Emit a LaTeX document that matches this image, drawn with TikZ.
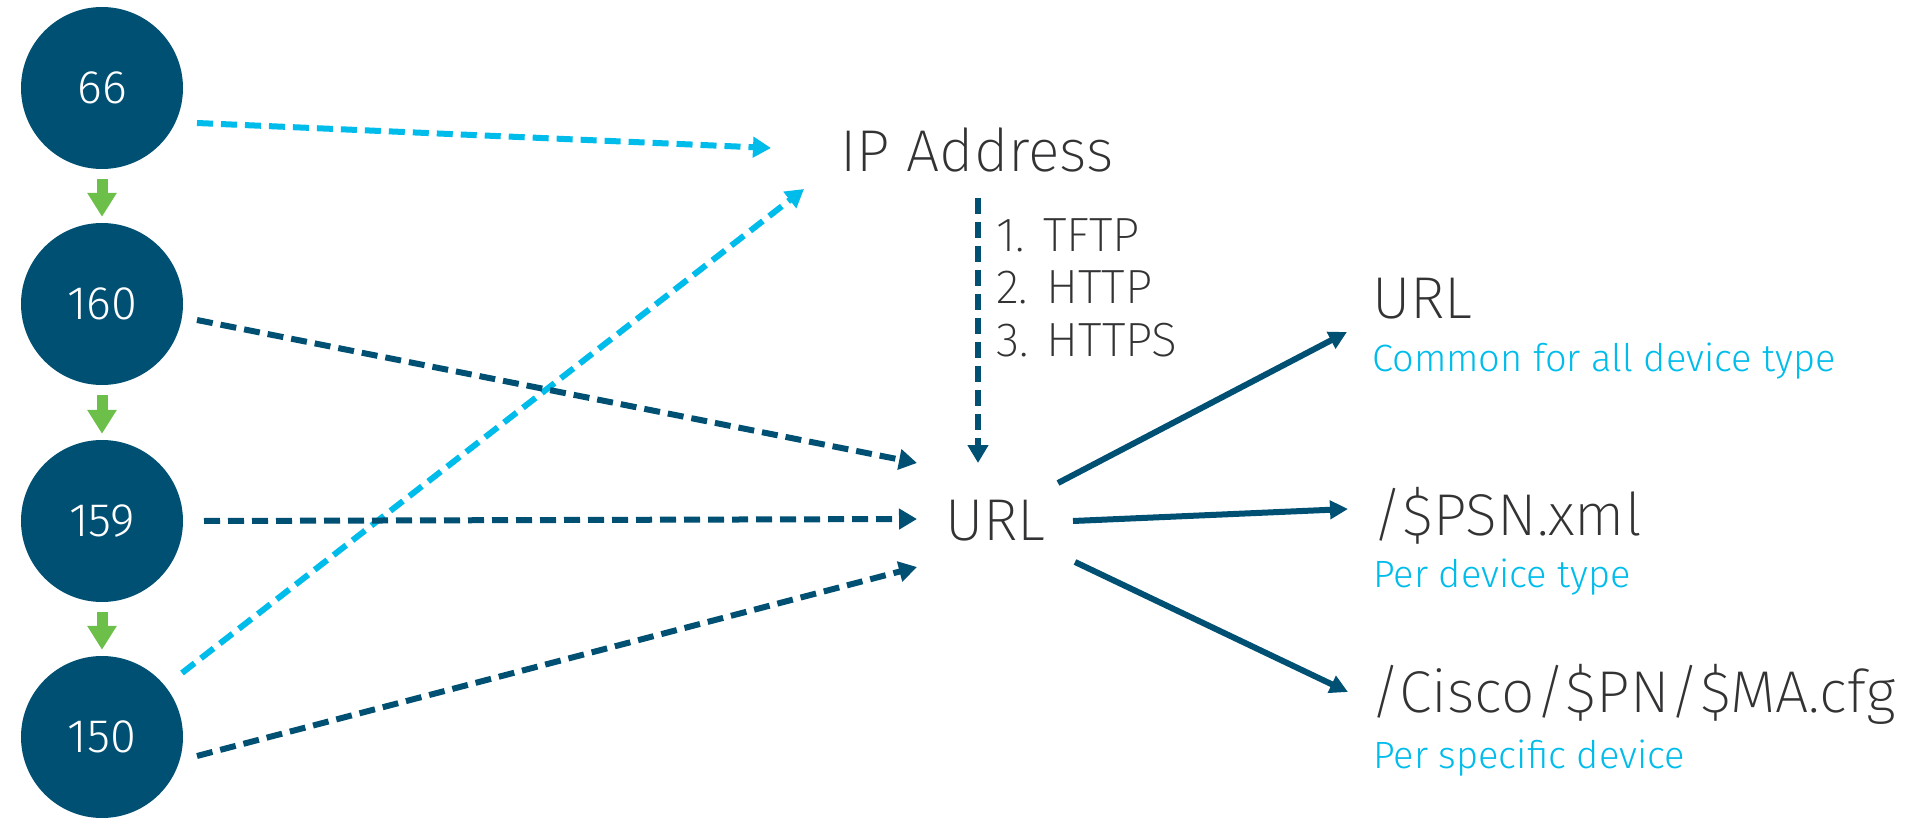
\documentclass[tikz,border=0pt]{standalone}
\usepackage{fontspec}
\IfFontExistsTF{Fira Sans ExtraLight}
  {\setmainfont{Fira Sans ExtraLight}}
  {\setmainfont{Fira Sans Light}}
\newfontfamily\notefont{Fira Sans Light}
\usetikzlibrary{arrows.meta,calc}

\definecolor{ciscodark}{HTML}{005073}
\definecolor{ciscolight}{HTML}{00BCEB}
\definecolor{ciscogreen}{HTML}{6CC04A}
\definecolor{labelgray}{HTML}{333335}

\begin{document}
\begin{tikzpicture}[x=1pt,y=-1pt,
  option/.style={circle, fill=ciscodark, minimum size=162pt, inner sep=0pt,
    text=white, font=\notefont\fontsize{47}{47}\selectfont},
  fallback/.style={line width=11pt, draw=ciscogreen,
    -{Triangle[width=28pt,length=24pt]}},
  dhcp/.style={line width=6pt, draw=ciscolight, dash pattern=on 16pt off 8pt,
    -{Triangle[width=20pt,length=18pt]}},
  fetch/.style={line width=6pt, draw=ciscodark, dash pattern=on 16pt off 8pt,
    -{Triangle[width=20pt,length=18pt]}},
  cfgfile/.style={line width=6pt, draw=ciscodark,
    -{Triangle[width=18pt,length=18pt]}},
  big/.style={text=labelgray, font=\fontsize{59}{59}\selectfont,
    inner sep=0pt, anchor=base west},
  proto/.style={text=labelgray, font=\fontsize{48}{48}\selectfont,
    inner sep=0pt, anchor=base west},
  note/.style={text=ciscolight, font=\notefont\fontsize{38}{38}\selectfont,
    inner sep=0pt, anchor=base west},
]
\useasboundingbox (0,0) rectangle (1907,818);

% DHCP options, tried from top to bottom
\node[option] (c66)  at (102,88)  {66};
\node[option] (c160) at (102,304) {160};
\node[option] (c159) at (102,521) {159};
\node[option] (c150) at (102,737) {150};

\draw[fallback] ([yshift=-10pt]c66.south)  -- ([yshift=6pt]c160.north);
\draw[fallback] ([yshift=-10pt]c160.south) -- ([yshift=6pt]c159.north);
\draw[fallback] ([yshift=-10pt]c159.south) -- ([yshift=6pt]c150.north);

% targets
\node[big] (ip)  at (840,172) {IP Address};
\node[big] (url) at (945,540) {URL};

\node[proto] (p1) at (996,252) {1. TFTP};
\node[proto] (p2) at (996,304) {2. HTTP};
\node[proto] (p3) at (996,357) {3. HTTPS};

\node[big]  (r1)  at (1372,319) {URL};
\node[note] (r1n) at (1372,372) {Common for all device type};
\node[big]  (r2)  at (1372,535) {/\$PSN.xml};
\node[note] (r2n) at (1373,587) {Per device type};
\node[big]  (r3)  at (1370,712) {/Cisco/\$PN/\$MA.cfg};
\node[note] (r3n) at (1373,768) {Per specific device};

% option value -> server address
\draw[dhcp] ($(c66.center)+(95,35)$)  -- ($(ip.base west)+(-69,-24)$);
\draw[dhcp] ($(c150.center)+(80,-64)$) -- ($(ip.base west)+(-36,17)$);

% option value -> URL
\draw[fetch] ($(c160.center)+(95,16)$) -- ($(url.base west)+(-28,-77)$);
\draw[fetch] ($(c159.center)+(102,0)$) -- ($(url.base west)+(-28,-21)$);
\draw[fetch] ($(c150.center)+(95,19)$) -- ($(url.base west)+(-28,27)$);
\draw[fetch] ($(ip.base west)+(138,26)$) -- ($(url.base west)+(33,-77)$);

% URL -> configuration files
\draw[cfgfile] ($(url.base west)+(113,-57)$) -- ($(r1.base west)+(-25,13)$);
\draw[cfgfile] ($(url.base west)+(128,-19)$) -- ($(r2.base west)+(-24,-26)$);
\draw[cfgfile] ($(url.base west)+(130,22)$)  -- ($(r3.base west)+(-22,-20)$);
\end{tikzpicture}
\end{document}
